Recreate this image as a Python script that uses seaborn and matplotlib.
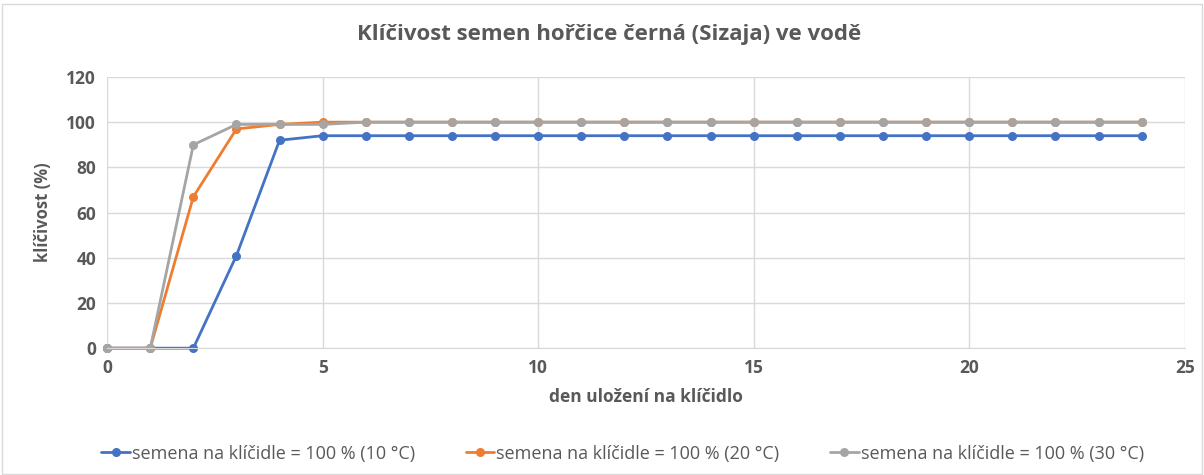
import pandas as pd
import matplotlib.pyplot as plt
import seaborn as sns

# days on the germinator
days = list(range(0, 25))

# germination (%) per temperature
germ_10 = [0, 0, 0, 41, 92] + [94] * 20
germ_20 = [0, 0, 67, 97, 99] + [100] * 20
germ_30 = [0, 0, 90, 99, 99, 99] + [100] * 19

labels = ['semena na klíčidle = 100 % (10 °C)',
          'semena na klíčidle = 100 % (20 °C)',
          'semena na klíčidle = 100 % (30 °C)']
colors = ['#4472C4', '#ED7D31', '#A5A5A5']

df = pd.concat([
    pd.DataFrame({'den': days, 'klicivost': germ_10, 'serie': labels[0]}),
    pd.DataFrame({'den': days, 'klicivost': germ_20, 'serie': labels[1]}),
    pd.DataFrame({'den': days, 'klicivost': germ_30, 'serie': labels[2]}),
], ignore_index=True)

sns.set_style('white')
plt.rcParams['font.family'] = ['Open Sans', 'DejaVu Sans']

fig = plt.figure(figsize=(12.04, 4.75), dpi=100)
ax = fig.add_axes([0.089, 0.267, 0.895, 0.571])

sns.lineplot(data=df, x='den', y='klicivost', hue='serie', palette=colors,
             marker='o', markersize=6.5, markeredgewidth=0, linewidth=2,
             ax=ax, legend=True)
for line in ax.lines:
    line.set_clip_on(False)

ax.set_xlim(0, 25)
ax.set_ylim(0, 120)
ax.set_xticks(range(0, 26, 5))
ax.set_yticks(range(0, 121, 20))
ax.grid(True, color='#D9D9D9', linewidth=1)
ax.set_axisbelow(True)
for side in ['top', 'right', 'left']:
    ax.spines[side].set_visible(False)
ax.spines['bottom'].set_color('#D9D9D9')
ax.tick_params(length=0, labelsize=12.5, labelcolor='#595959', pad=8)
for t in ax.get_xticklabels() + ax.get_yticklabels():
    t.set_fontweight('bold')

ax.set_xlabel('den uložení na klíčidlo', fontsize=12.5, fontweight='bold', color='#595959', labelpad=8)
ax.set_ylabel('klíčivost (%)', fontsize=12, fontweight='bold', color='#595959', labelpad=10)
fig.suptitle('Klíčivost semen hořčice černá (Sizaja) ve vodě', x=0.506, y=0.95,
             fontsize=16, fontweight='bold', color='#595959')

handles, _ = ax.get_legend_handles_labels()
ax.get_legend().remove()
fig.legend(handles, labels, loc='center', bbox_to_anchor=(0.517, 0.045), ncol=3,
           frameon=False, fontsize=13, labelcolor='#595959', handlelength=1.6,
           handletextpad=0.1, columnspacing=2.8)

fig.patches.append(plt.Rectangle((0.002, 0.002), 0.996, 0.99, transform=fig.transFigure,
                                 fill=False, edgecolor='#D9D9D9', linewidth=1))

fig.savefig('out.png', dpi=100)
